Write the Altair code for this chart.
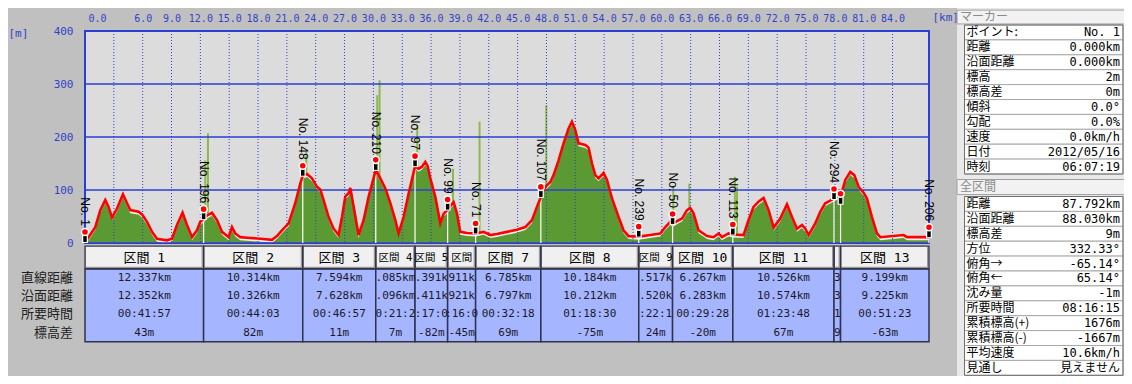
import altair as alt
import pandas as pd

# ---------------- elevation profile (red line) ----------------
prof_km = [0.00, 0.37, 1.07, 1.59, 2.11, 2.45, 2.81, 3.33, 3.95, 4.37,
           4.71, 5.58, 5.93, 6.45, 6.97, 7.49, 8.53, 9.05, 9.57, 10.15,
           10.61, 11.13, 11.65, 11.99, 12.337, 12.70, 13.21, 13.73, 14.25, 14.94,
           15.29, 15.63, 16.15, 16.85, 18.23, 19.45, 19.97, 20.49, 21.18, 21.87,
           22.39, 22.651, 23.10, 23.61, 24.13, 24.47, 24.82, 25.34, 25.86, 26.38,
           26.73, 27.08, 27.42, 27.60, 27.88, 28.46, 28.98, 29.50, 30.245, 30.72,
           31.24, 31.76, 32.28, 32.62, 33.14, 33.66, 34.33, 34.70, 35.05, 35.40,
           35.64, 35.92, 36.44, 36.96, 37.30, 37.721, 38.10, 38.34, 38.69, 39.03,
           39.73, 40.632, 41.46, 42.16, 42.85, 43.89, 44.93, 45.80, 46.49, 47.01,
           47.417, 47.89, 48.41, 48.74, 49.26, 49.78, 50.30, 50.65, 51.00, 51.34,
           52.04, 52.38, 52.74, 53.08, 53.42, 53.94, 54.30, 54.82, 55.50, 56.02,
           56.54, 57.601, 58.80, 59.84, 60.36, 60.88, 61.118, 61.75, 62.10, 62.62,
           62.96, 63.30, 63.82, 64.70, 65.38, 65.90, 66.26, 66.94, 67.385, 68.50,
           69.02, 69.54, 70.06, 70.59, 71.11, 71.63, 72.32, 73.02, 73.54, 74.06,
           74.58, 74.92, 75.27, 75.96, 76.48, 77.00, 77.52, 77.911, 78.30, 78.593,
           79.09, 79.60, 80.02, 80.47, 80.99, 81.34, 81.86, 82.38, 82.73, 85.15,
           85.50, 87.792]
prof_m = [2, 11, 30, 62, 81, 68, 48, 65, 92, 75,
          62, 59, 54, 40, 21, 8, 5, 8, 34, 57,
          34, 11, 24, 40, 45, 52, 57, 43, 21, 11,
          30, 18, 11, 10, 8, 6, 13, 24, 37, 75,
          112, 127, 130, 122, 106, 101, 81, 49, 27, 15,
          49, 88, 94, 104, 75, 15, 43, 87, 138, 122,
          103, 75, 43, 18, 49, 93, 145, 140, 144, 153,
          145, 122, 87, 37, 55, 63, 72, 77, 56, 21,
          19, 18, 21, 15, 17, 21, 25, 30, 43, 68,
          87, 106, 115, 128, 156, 188, 216, 229, 213, 188,
          185, 180, 150, 128, 122, 132, 119, 84, 49, 24,
          13, 12, 15, 18, 30, 40, 36, 43, 46, 62,
          66, 56, 24, 13, 11, 18, 11, 18, 16, 15,
          43, 68, 78, 85, 62, 29, 46, 73, 49, 27,
          34, 27, 15, 37, 59, 75, 80, 84, 88, 88,
          119, 134, 128, 106, 95, 84, 49, 18, 11, 15,
          11, 11]

# light green GPS spikes
spike_km = [12.51, 12.79, 23.02, 30.40, 30.64, 34.56, 38.28, 41.04, 47.98, 61.19, 62.86, 67.60, 67.82]
spike_m = [156, 207, 172, 279, 307, 222, 140, 229, 260, 108, 112, 125, 106]

# markers (pins)
marker_km = [0.0, 12.337, 22.651, 30.245, 34.330, 37.721, 40.632, 47.417, 57.601, 61.118, 67.385, 77.911, 78.593, 87.792]
marker_m = [2, 45, 127, 138, 145, 63, 18, 87, 12, 36, 16, 83, 74, 11]
marker_label = ["No. 1", "No. 196", "No. 148", "No. 210", "No. 97", "No. 99", "No. 71", "No. 107",
                "No. 239", "No. 50", "No. 113", "No. 294", "", "No. 206"]

x_ticks = [0, 3, 6, 9, 12, 15, 18, 21, 24, 27, 30, 33, 36, 39, 42, 45, 48, 51, 54, 57, 60, 63, 66, 69, 72, 75, 78, 81, 84]
y_ticks = [0, 100, 200, 300, 400]

# ---------------- section table ----------------
sec_dist = [12.337, 10.314, 7.594, 4.085, 3.391, 2.911, 6.785, 10.184, 3.517, 6.267, 10.526, 0.682, 9.199]
sec_head = ["区間 1", "区間 2", "区間 3", "区間 4", "区間 5", "区間", "区間 7", "区間 8", "区間 9",
            "区間 10", "区間 11", "", "区間 13"]
row_names = ["直線距離", "沿面距離", "所要時間", "標高差"]
row_straight = ["12.337km", "10.314km", "7.594km", ".085km", ".391k", "911k", "6.785km", "10.184km",
                ".517k", "6.267km", "10.526km", "3", "9.199km"]
row_surface = ["12.352km", "10.326km", "7.628km", ".096km", ".411k", "921k", "6.797km", "10.212km",
               ".520k", "6.283km", "10.574km", "3", "9.225km"]
row_time = ["00:41:57", "00:44:03", "00:46:57", "0:21:2", ":17:0", ":16:0", "00:32:18", "01:18:30",
            ":22:1", "00:29:28", "01:23:48", "1", "00:51:23"]
row_elev = ["43m", "82m", "11m", "7m", "-82m", "-45m", "69m", "-75m", "24m", "-20m", "67m", "9", "-63m"]

# ---------------- right panel ----------------
p1_title = "マーカー"
p1_labels = ["ポイント:", "距離", "沿面距離", "標高", "標高差", "傾斜", "勾配", "速度", "日付", "時刻"]
p1_values = ["No. 1", "0.000km", "0.000km", "2m", "0m", "0.0°", "0.0%", "0.0km/h", "2012/05/16", "06:07:19"]
p2_title = "全区間"
p2_labels = ["距離", "沿面距離", "標高差", "方位", "俯角→", "俯角←", "沈み量", "所要時間",
             "累積標高(+)", "累積標高(-)", "平均速度", "見通し"]
p2_values = ["87.792km", "88.030km", "9m", "332.33°", "-65.14°", "65.14°", "-1m", "08:16:15",
             "1676m", "-1667m", "10.6km/h", "見えません"]

# ---------------- styling ----------------
BLUE = "#2B3FD6"
BLUE_T = "#3443C8"
MONO = "DejaVu Sans Mono"
CJK = "Noto Sans CJK JP"
MIXED = "DejaVu Sans Mono, Noto Sans CJK JP"
TOTAL = round(sum(sec_dist), 3)

XS = alt.Scale(domain=[0, TOTAL], nice=False, zero=False)
YS = alt.Scale(domain=[0, 400], nice=False, zero=True)

xaxis = alt.Axis(orient="top", values=x_ticks,
                 labelExpr="datum.value == 3 ? '' : format(datum.value, '.1f')",
                 ticks=False, domain=False, grid=False, labelColor=BLUE_T, labelFont=MONO,
                 labelFontSize=10, labelPadding=8, labelFlush=True, labelFlushOffset=-3,
                 labelOverlap=False, labelBound=False,
                 title="[km]", titleX=847, titleY=-14, titleAlign="left", titleBaseline="middle",
                 titleAngle=0, titleColor=BLUE_T, titleFont=MONO, titleFontSize=11,
                 titleFontWeight="normal")
yaxis = alt.Axis(orient="left", values=y_ticks, ticks=False, domain=False, grid=False,
                 labelColor=BLUE_T, labelFont=MONO, labelFontSize=11, labelPadding=12,
                 labelOverlap=False,
                 title="[m]", titleAngle=0, titleX=-77, titleY=2, titleAlign="left",
                 titleBaseline="middle", titleColor=BLUE_T, titleFont=MONO, titleFontSize=11,
                 titleFontWeight="normal")


def xe():
    return alt.X("km:Q", scale=XS, axis=xaxis)


def ye():
    return alt.Y("m:Q", scale=YS, axis=yaxis)


prof = pd.DataFrame({"km": prof_km, "m": prof_m})
spk = pd.DataFrame({"km": spike_km, "m": spike_m})
mk = pd.DataFrame({"km": marker_km, "m": marker_m, "label": marker_label})
mk_lab = mk[mk["label"] != ""]
vgrid = pd.DataFrame({"km": x_ticks[1:]})
hgrid = pd.DataFrame({"m": [0, 100, 200, 300]})

spikes = alt.Chart(spk).mark_rule(color="#8DB84F", strokeWidth=2).encode(
    x=xe(), y=ye(), y2=alt.Y2Datum(0))
band = alt.Chart(prof).mark_area(color="#EDEDED", clip=True).encode(x=xe(), y=ye())
green = alt.Chart(prof).mark_area(color="#5B9A33", clip=True, yOffset=3).encode(x=xe(), y=ye())
hg = alt.Chart(hgrid).mark_rule(color=BLUE, strokeWidth=1.5).encode(y=ye())
vg = alt.Chart(vgrid).mark_rule(color=BLUE, strokeWidth=1, strokeDash=[1, 2]).encode(x=xe())
pole = alt.Chart(mk).mark_rule(color="white", strokeWidth=1.2).encode(
    x=xe(), y=ye(), y2=alt.Y2Datum(0))
line = alt.Chart(prof).mark_line(color="#FF0000", strokeWidth=2.6).encode(x=xe(), y=ye())
stem_o = alt.Chart(mk).mark_rule(color="white", strokeWidth=6, yOffset=1, y2Offset=-11).encode(
    x=xe(), y=ye(), y2="m:Q")
stem = alt.Chart(mk).mark_rule(color="black", strokeWidth=3.5, y2Offset=-9).encode(
    x=xe(), y=ye(), y2="m:Q")
dot = alt.Chart(mk).mark_circle(color="#FF0000", stroke="white", strokeWidth=1.5, size=50,
                                opacity=1, yOffset=-10).encode(x=xe(), y=ye())
labels = alt.Chart(mk_lab).mark_text(angle=90, align="right", baseline="middle",
                                     font="Liberation Sans", fontSize=12, color="black",
                                     yOffset=-16).encode(x=xe(), y=ye(), text="label:N")

profile = alt.layer(spikes, band, green, hg, vg, pole, line, stem_o, stem, dot, labels)

# ---------------- table ----------------
cum = [0.0]
for d in sec_dist:
    cum.append(cum[-1] + d)
sec = pd.DataFrame({"start": cum[:-1], "end": cum[1:], "head": sec_head, "dist": sec_dist})
sec["mid"] = (sec["start"] + sec["end"]) / 2
sec_wide = sec[sec["dist"] > 5]
sec_narrow = sec[sec["dist"] <= 5]

cells = []
for r, vals in enumerate([row_straight, row_surface, row_time, row_elev]):
    for i, v in enumerate(vals):
        cells.append({"mid": sec["mid"][i], "row": r + 0.5, "txt": v})
cells = pd.DataFrame(cells)
rowlab = pd.DataFrame({"row": [r + 0.5 for r in range(4)], "name": row_names})

TXS = alt.Scale(domain=[0, TOTAL], nice=False, zero=False)
TYS = alt.Scale(domain=[0, 4], range=[238, 310.7], nice=False, zero=False)

cell_rect = alt.Chart(sec).mark_rect(fill="#A6B5FF", stroke="#2E3350", strokeWidth=1.5).encode(
    x=alt.X("start:Q", scale=TXS, axis=None), x2="end:Q",
    y=alt.YDatum(0, scale=TYS, axis=None), y2=alt.Y2Datum(4))
head_shadow = alt.Chart(sec).mark_rect(fill="#9A9A9A").encode(
    x=alt.X("start:Q", scale=TXS, axis=None), x2="end:Q",
    y=alt.YDatum(-1.265, scale=TYS, axis=None), y2=alt.Y2Datum(-0.02))
head_face = alt.Chart(sec).mark_rect(fill="#F0F0F0", xOffset=1, yOffset=1, x2Offset=-2,
                                     y2Offset=-2).encode(
    x=alt.X("start:Q", scale=TXS, axis=None), x2="end:Q",
    y=alt.YDatum(-1.265, scale=TYS, axis=None), y2=alt.Y2Datum(-0.02))
head_line = alt.Chart(sec).mark_rect(fillOpacity=0, stroke="#33334A", strokeWidth=1.2).encode(
    x=alt.X("start:Q", scale=TXS, axis=None), x2="end:Q",
    y=alt.YDatum(-1.265, scale=TYS, axis=None), y2=alt.Y2Datum(-0.02))
head_txt = alt.Chart(sec_wide).mark_text(font=MIXED, fontSize=13, color="black").encode(
    x=alt.X("mid:Q", scale=TXS, axis=None), y=alt.YDatum(-0.63, scale=TYS, axis=None),
    text="head:N")
head_txt_n = alt.Chart(sec_narrow).mark_text(font=MIXED, fontSize=10.5, color="black").encode(
    x=alt.X("mid:Q", scale=TXS, axis=None), y=alt.YDatum(-0.63, scale=TYS, axis=None),
    text="head:N")
cell_txt = alt.Chart(cells).mark_text(font=MONO, fontSize=11, color="#1A1A2A").encode(
    x=alt.X("mid:Q", scale=TXS, axis=None), y=alt.Y("row:Q", scale=TYS, axis=None),
    text="txt:N")
row_txt = alt.Chart(rowlab).mark_text(font=CJK, fontSize=13, color="#202020", align="right",
                                      dx=-12).encode(
    x=alt.XDatum(0, scale=TXS, axis=None), y=alt.Y("row:Q", scale=TYS, axis=None),
    text="name:N")

table = alt.layer(cell_rect, head_shadow, head_face, head_line, head_txt, head_txt_n,
                  cell_txt, row_txt)

# ---------------- right panel ----------------
PXS = alt.Scale(domain=[0, 1], range=[879.5, 1038], nice=False, zero=False)
one = pd.DataFrame({"a": [0]})


def panel(title, labs, vals, ys, bar0, bar1, with_bg):
    n = len(labs)
    df = pd.DataFrame({"k": list(range(n)), "k1": [k + 1 for k in range(n)],
                       "kc": [k + 0.5 for k in range(n)], "lab": labs, "val": vals})
    layers = []
    if with_bg:
        layers.append(alt.Chart(one).mark_rect(fill="#E9E9E9").encode(
            x=alt.XDatum(-0.047, scale=PXS, axis=None), x2=alt.X2Datum(1.3),
            y=alt.YDatum(-3, scale=ys, axis=None), y2=alt.Y2Datum(30)))
    tdf = pd.DataFrame({"t": [title]})
    layers.append(alt.Chart(tdf).mark_rect(fill="#F2F2F2", stroke="#A0A0A0", strokeWidth=1).encode(
        x=alt.XDatum(-0.047, scale=PXS, axis=None), x2=alt.X2Datum(1.06),
        y=alt.YDatum(bar0, scale=ys, axis=None), y2=alt.Y2Datum(bar1)))
    layers.append(alt.Chart(tdf).mark_text(font=CJK, fontSize=12, color="#8A8A8A", align="left",
                                           dx=3).encode(
        x=alt.XDatum(-0.047, scale=PXS, axis=None),
        y=alt.YDatum((bar0 + bar1) / 2, scale=ys, axis=None), text="t:N"))
    layers.append(alt.Chart(df).mark_rect(fill="white", stroke="#A8A8A8", strokeWidth=1).encode(
        x=alt.XDatum(0, scale=PXS, axis=None), x2=alt.X2Datum(1),
        y=alt.Y("k:Q", scale=ys, axis=None), y2="k1:Q"))
    layers.append(alt.Chart(one).mark_rect(fillOpacity=0, stroke="#707070", strokeWidth=1).encode(
        x=alt.XDatum(0, scale=PXS, axis=None), x2=alt.X2Datum(1),
        y=alt.YDatum(0, scale=ys, axis=None), y2=alt.Y2Datum(n)))
    layers.append(alt.Chart(df).mark_text(font=CJK, fontSize=12, color="black", align="left",
                                          dx=2).encode(
        x=alt.XDatum(0, scale=PXS, axis=None), y=alt.Y("kc:Q", scale=ys, axis=None),
        text="lab:N"))
    layers.append(alt.Chart(df).mark_text(font=MIXED, fontSize=12, color="black", align="right",
                                          dx=-3).encode(
        x=alt.XDatum(1, scale=PXS, axis=None), y=alt.Y("kc:Q", scale=ys, axis=None),
        text="val:N"))
    return alt.layer(*layers)


P1YS = alt.Scale(domain=[0, 10], range=[-6, 143], nice=False, zero=False)
P2YS = alt.Scale(domain=[0, 12], range=[165.5, 344.3], nice=False, zero=False)
panel1 = panel(p1_title, p1_labels, p1_values, P1YS, -1.0, -0.07, True)
panel2 = panel(p2_title, p2_labels, p2_values, P2YS, -1.14, -0.13, False)

chart = alt.layer(profile, table, panel1, panel2).resolve_scale(
    x="independent", y="independent"
).properties(
    width=844, height=212,
    autosize=alt.AutoSizeParams(type="none"),
    padding={"left": 77, "top": 23, "right": 195, "bottom": 133},
).configure(background="#C0C0C0").configure_view(fill="#DCDCDC", stroke=BLUE, strokeWidth=2)

chart.save("out.html", embed_options={"renderer": "svg", "actions": False})
